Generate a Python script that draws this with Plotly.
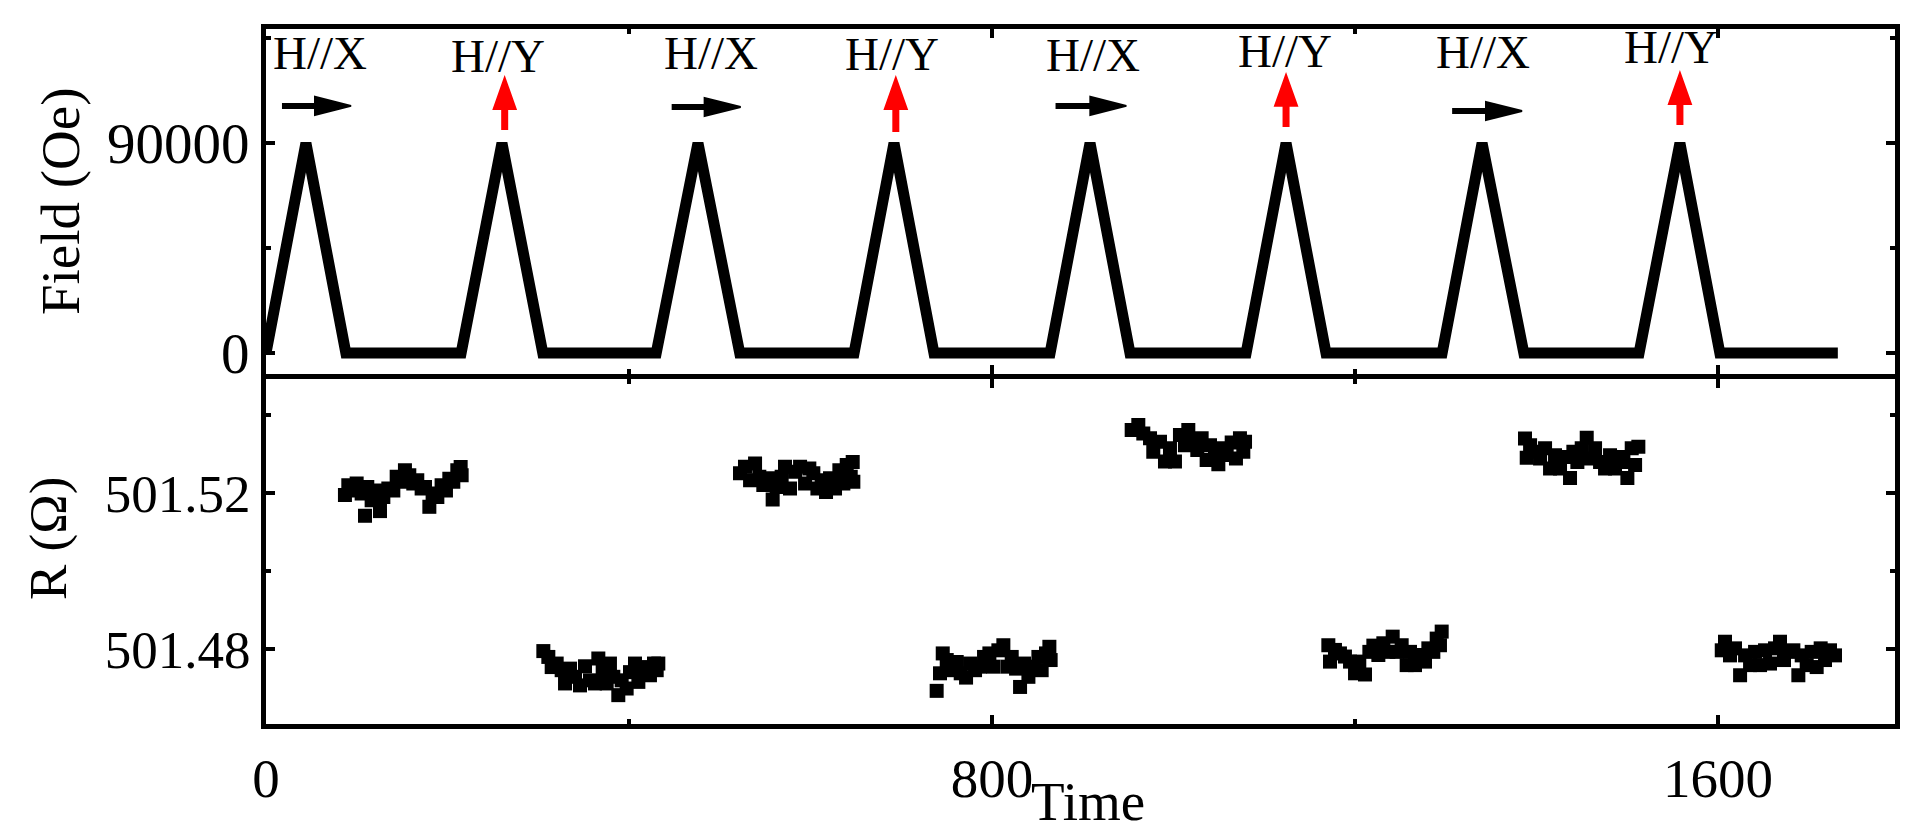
import plotly.graph_objects as go

# ---------------- data ----------------
field_time = [0, 44, 88, 215, 260, 305, 430, 476, 522, 648, 692, 736, 864, 908, 952,
              1080, 1124, 1168, 1296, 1340, 1386, 1513, 1558, 1602, 1732]
field_oe = [0, 90000, 0, 0, 90000, 0, 0, 90000, 0, 0, 90000, 0, 0, 90000, 0,
            0, 90000, 0, 0, 90000, 0, 0, 90000, 0, 0]

r_time = [
    # block 1 (after H//X)
    87.0, 90.7, 95.5, 99.9, 105.4, 109.1, 111.6, 116.4, 121.9, 125.6, 129.3, 134.8, 140.3, 144.0,
    148.4, 153.1, 157.9, 162.3, 166.7, 171.5, 175.2, 180.0, 183.6, 188.8, 193.5, 198.3, 202.0,
    206.4, 210.8, 214.5, 215.6,
    # block 2 (after H//Y)
    305.6, 311.1, 314.8, 320.3, 325.8, 329.5, 335.0, 340.5, 346.0, 351.5, 357.0, 362.5, 366.2,
    371.0, 375.4, 379.0, 382.7, 388.2, 391.9, 397.4, 401.1, 406.6, 410.3, 413.9, 418.7, 423.1,
    427.5, 430.5, 432.3,
    # block 3
    522.3, 527.8, 533.4, 538.9, 543.6, 548.0, 553.6, 558.3, 562.7, 568.2, 571.9, 577.4, 583.0,
    588.5, 594.0, 598.7, 603.1, 607.6, 612.3, 617.1, 621.5, 627.0, 631.8, 636.2, 639.9, 644.3,
    646.5, 647.2,
    # block 4
    739.0, 742.7, 745.7, 750.1, 755.6, 761.1, 765.5, 771.4, 775.8, 781.3, 786.8, 791.2, 797.1,
    801.5, 807.0, 812.5, 817.0, 821.7, 826.5, 830.9, 835.3, 840.1, 845.6, 851.1, 854.7, 859.5,
    863.2, 864.6,
    # block 5
    953.9, 961.2, 966.7, 974.1, 977.7, 985.1, 990.6, 996.1, 1001.6, 1007.1, 1012.6, 1016.3,
    1021.1, 1026.2, 1031.0, 1036.5, 1040.2, 1045.7, 1049.4, 1053.0, 1058.6, 1064.1, 1068.8,
    1073.2, 1076.9, 1078.8,
    # block 6
    1170.6, 1172.4, 1177.9, 1183.4, 1188.9, 1194.5, 1200.0, 1204.7, 1211.0, 1215.8, 1220.2,
    1225.7, 1231.2, 1236.7, 1241.5, 1245.9, 1251.4, 1256.9, 1260.6, 1266.1, 1271.6, 1277.1,
    1280.8, 1286.3, 1290.0, 1293.6, 1295.5,
    # block 7
    1387.3, 1389.2, 1392.9, 1398.4, 1403.9, 1409.4, 1414.9, 1420.4, 1425.9, 1431.4, 1436.9,
    1440.6, 1445.0, 1449.8, 1455.3, 1459.7, 1464.5, 1470.0, 1475.5, 1481.0, 1486.5, 1490.2,
    1495.7, 1500.1, 1504.9, 1508.6, 1512.2,
    # block 8
    1604.1, 1607.7, 1613.2, 1618.7, 1624.3, 1629.8, 1635.3, 1640.8, 1646.3, 1651.8, 1657.3,
    1662.8, 1668.3, 1672.7, 1677.5, 1683.0, 1688.5, 1692.2, 1697.7, 1703.2, 1708.7, 1713.1,
    1717.9, 1723.4, 1728.9,
]

r_ohm = [
    # block 1
    501.5195, 501.5220, 501.5207, 501.5225, 501.5199, 501.5142, 501.5216, 501.5182, 501.5207,
    501.5154, 501.5190, 501.5212, 501.5207, 501.5242, 501.5229, 501.5259, 501.5246, 501.5225,
    501.5233, 501.5212, 501.5216, 501.5165, 501.5199, 501.5190, 501.5220, 501.5207, 501.5237,
    501.5229, 501.5259, 501.5267, 501.5246,
    # block 2
    501.4795, 501.4780, 501.4754, 501.4763, 501.4746, 501.4712, 501.4750, 501.4729, 501.4707,
    501.4756, 501.4720, 501.4712, 501.4776, 501.4746, 501.4712, 501.4763, 501.4729, 501.4682,
    501.4720, 501.4699, 501.4741, 501.4763, 501.4716, 501.4737, 501.4754, 501.4733, 501.4763,
    501.4746, 501.4763,
    # block 3
    501.5251, 501.5268, 501.5233, 501.5276, 501.5242, 501.5221, 501.5238, 501.5184, 501.5216,
    501.5242, 501.5268, 501.5212, 501.5255, 501.5268, 501.5225, 501.5263, 501.5251, 501.5212,
    501.5233, 501.5203, 501.5238, 501.5212, 501.5259, 501.5225, 501.5272, 501.5242, 501.5280,
    501.5229,
    # block 4
    501.4693, 501.4738, 501.4789, 501.4772, 501.4746, 501.4767, 501.4738, 501.4727, 501.4763,
    501.4746, 501.4755, 501.4780, 501.4789, 501.4755, 501.4797, 501.4810, 501.4755, 501.4780,
    501.4750, 501.4703, 501.4763, 501.4729, 501.4755, 501.4780, 501.4746, 501.4789, 501.4806,
    501.4772,
    # block 5
    501.5362, 501.5375, 501.5353, 501.5341, 501.5306, 501.5332, 501.5281, 501.5315, 501.5281,
    501.5349, 501.5323, 501.5362, 501.5332, 501.5311, 501.5341, 501.5285, 501.5323, 501.5306,
    501.5274, 501.5315, 501.5298, 501.5330, 501.5289, 501.5341, 501.5306, 501.5332,
    # block 6
    501.4810, 501.4768, 501.4798, 501.4789, 501.4781, 501.4768, 501.4738, 501.4768, 501.4735,
    501.4793, 501.4809, 501.4785, 501.4815, 501.4793, 501.4832, 501.4793, 501.4810, 501.4759,
    501.4793, 501.4759, 501.4785, 501.4768, 501.4802, 501.4793, 501.4827, 501.4810, 501.4845,
    # block 7
    501.5340, 501.5291, 501.5323, 501.5306, 501.5289, 501.5315, 501.5263, 501.5297, 501.5263,
    501.5293, 501.5239, 501.5306, 501.5280, 501.5315, 501.5342, 501.5289, 501.5315, 501.5280,
    501.5263, 501.5297, 501.5263, 501.5293, 501.5280, 501.5239, 501.5315, 501.5272, 501.5319,
    # block 8
    501.4797, 501.4819, 501.4784, 501.4802, 501.4733, 501.4784, 501.4759, 501.4793, 501.4759,
    501.4797, 501.4763, 501.4802, 501.4819, 501.4772, 501.4793, 501.4797, 501.4733, 501.4784,
    501.4759, 501.4793, 501.4754, 501.4802, 501.4772, 501.4797, 501.4784,
]

# field-direction labels
hx_label_time = [60, 490, 911, 1341]
hx_label_field = [128600, 128600, 127700, 129000]
hy_label_time = [256, 690, 1123, 1548]
hy_label_field = [127300, 128300, 129400, 131000]

# black horizontal arrows (H//X)
hx_arrow_tail = [17.6, 447, 870, 1307]
hx_arrow_tip = [93.7, 523, 948, 1384]
hx_arrow_field = [105900, 105400, 105900, 103700]

# red vertical arrows (H//Y)
hy_arrow_time = [263, 694, 1124, 1558]
hy_arrow_tail = [95600, 94700, 96900, 97700]
hy_arrow_tip = [117900, 117900, 119200, 120000]

# ---------------- layout constants ----------------
W, H = 1917, 832
ML, MR, MT, MB = 266, 22, 29, 108
LINE_W = 5
X_RANGE = [0, 1795]
FIELD_RANGE = [-8786, 138857]
R_RANGE = [501.4608, 501.5494]
FONT = "Liberation Serif"

plot_w = W - ML - MR
plot_h = H - MT - MB
TOP_DOMAIN = [0.5043, 1]
BOTTOM_DOMAIN = [0, 0.4971]
px_per_x = plot_w / (X_RANGE[1] - X_RANGE[0])
px_per_field = plot_h * (TOP_DOMAIN[1] - TOP_DOMAIN[0]) / (FIELD_RANGE[1] - FIELD_RANGE[0])


def paper_x(px):
    return (px - ML) / plot_w


def paper_y(py):
    return 1 - (py - MT) / plot_h


fig = go.Figure()
fig.add_trace(go.Scatter(x=field_time, y=field_oe, mode="lines",
                         line=dict(color="black", width=11),
                         xaxis="x2", yaxis="y2", showlegend=False, hoverinfo="skip"))
fig.add_trace(go.Scatter(x=r_time, y=r_ohm, mode="markers",
                         marker=dict(symbol="square", size=14, color="black",
                                     line=dict(width=0)),
                         xaxis="x", yaxis="y", showlegend=False, hoverinfo="skip"))

shapes = []
annotations = []
# black arrows
HEAD_L, HEAD_HW = 36, 9
for tail, tip, yv in zip(hx_arrow_tail, hx_arrow_tip, hx_arrow_field):
    shapes.append(dict(type="line", xref="x2", yref="y2", x0=tail,
                       x1=tip - (HEAD_L - 3) / px_per_x, y0=yv, y1=yv,
                       line=dict(color="black", width=6)))
    shapes.append(dict(type="path", xref="x2", yref="y2", xsizemode="pixel",
                       ysizemode="pixel", xanchor=tip, yanchor=yv,
                       path=f"M 0,0 L {-HEAD_L},{HEAD_HW} L {-HEAD_L},{-HEAD_HW} Z",
                       fillcolor="black", line=dict(color="black", width=2)))
# red arrows
RHEAD_L, RHEAD_HW = 31, 11
for xv, tail, tip in zip(hy_arrow_time, hy_arrow_tail, hy_arrow_tip):
    shapes.append(dict(type="line", xref="x2", yref="y2", x0=xv, x1=xv, y0=tail,
                       y1=tip - (RHEAD_L - 3) / px_per_field,
                       line=dict(color="red", width=7)))
    shapes.append(dict(type="path", xref="x2", yref="y2", xsizemode="pixel",
                       ysizemode="pixel", xanchor=xv, yanchor=tip,
                       path=f"M 0,0 L {-RHEAD_HW},{-RHEAD_L} L {RHEAD_HW},{-RHEAD_L} Z",
                       fillcolor="red", line=dict(color="red", width=2)))

for xv, yv in zip(hx_label_time, hx_label_field):
    annotations.append(dict(x=xv, y=yv, xref="x2", yref="y2", text="H//X",
                            showarrow=False, font=dict(family=FONT, size=47, color="black")))
for xv, yv in zip(hy_label_time, hy_label_field):
    annotations.append(dict(x=xv, y=yv, xref="x2", yref="y2", text="H//Y",
                            showarrow=False, font=dict(family=FONT, size=47, color="black")))

# axis titles placed as annotations
annotations.append(dict(x=paper_x(48), y=paper_y(539), xref="paper", yref="paper",
                        text="R (Ω)", textangle=-90, showarrow=False,
                        xanchor="center", yanchor="middle",
                        font=dict(family=FONT, size=53, color="black")))
annotations.append(dict(x=paper_x(1088), y=paper_y(801), xref="paper", yref="paper",
                        text="Time", showarrow=False,
                        xanchor="center", yanchor="middle",
                        font=dict(family=FONT, size=55, color="black")))

common = dict(showline=True, linewidth=LINE_W, linecolor="black", mirror="allticks",
              ticks="inside", ticklen=9, tickwidth=4, tickcolor="black",
              showgrid=False, zeroline=False, automargin=False)
minor_common = dict(ticks="inside", ticklen=5, tickwidth=4, tickcolor="black")

fig.update_layout(
    width=W, height=H,
    margin=dict(l=ML, r=MR, t=MT, b=MB),
    paper_bgcolor="white", plot_bgcolor="white",
    shapes=shapes, annotations=annotations,
    xaxis=dict(domain=[0, 1], anchor="y", range=X_RANGE, tick0=0, dtick=800,
               tickfont=dict(family=FONT, size=55, color="black"), ticklabelstandoff=2,
               minor=dict(dtick=400, **minor_common),
               **common),
    xaxis2=dict(domain=[0, 1], anchor="y2", matches="x", range=X_RANGE, tick0=0, dtick=800,
                showticklabels=False, minor=dict(dtick=400, **minor_common),
                **common),
    yaxis=dict(domain=BOTTOM_DOMAIN, anchor="x", range=R_RANGE, tick0=501.48, dtick=0.04,
               tickformat=".2f", tickfont=dict(family=FONT, size=53, color="black"),
               minor=dict(dtick=0.02, **minor_common),
               **common),
    yaxis2=dict(domain=TOP_DOMAIN, anchor="x2", range=FIELD_RANGE, tick0=0, dtick=90000,
                tickformat="d", tickfont=dict(family=FONT, size=57, color="black"),
                minor=dict(dtick=45000, **minor_common),
                title=dict(text="Field (Oe)", font=dict(family=FONT, size=55, color="black"), standoff=11),
                **common),
)

fig.write_html("out.html", config={"displayModeBar": False},
               post_script="document.body.style.margin='0px';document.body.style.overflow='hidden';")
